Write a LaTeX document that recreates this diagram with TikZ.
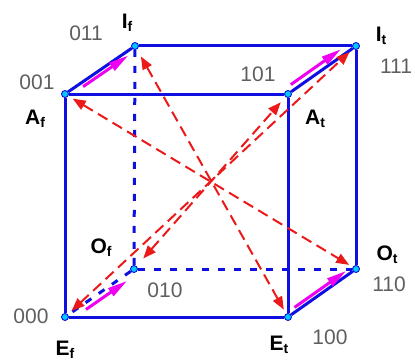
\documentclass[tikz,border=0pt]{standalone}
\usepackage{fontspec}
\setmainfont{Liberation Sans}
\usetikzlibrary{arrows.meta}
\definecolor{eblue}{RGB}{15,15,225}
\definecolor{vcyan}{RGB}{0,200,255}
\definecolor{dred}{RGB}{235,25,25}
\definecolor{mag}{RGB}{240,0,240}
\definecolor{dgray}{RGB}{95,95,95}
\newcommand\vlab[2]{\textbf{#1\raisebox{-0.3ex}{\fontsize{14}{14}\selectfont #2}}}
\begin{document}
\begin{tikzpicture}[x=1pt,y=-1pt,
 vtx/.style={circle,draw=eblue,fill=vcyan,line width=0.9pt,inner sep=0pt,minimum size=7pt},
 edge/.style={eblue,line width=3pt},
 hidden/.style={eblue,line width=3pt,dash pattern=on 7pt off 9pt},
 diag/.style={dred,line width=2pt,dash pattern=on 11pt off 6pt,{Triangle[length=13pt,width=10pt]}-{Triangle[length=13pt,width=10pt]}},
 magarrow/.style={mag,line width=3pt,-{Triangle[length=20pt,width=9pt]}},
 letter/.style={font=\fontsize{21}{21}\selectfont,inner sep=0pt},
 code/.style={font=\fontsize{21}{21}\selectfont,text=dgray,inner sep=0pt}]
\useasboundingbox (0,0) rectangle (415,361);
% vertices
\node[vtx] (Af) at (65,94) {};
\node[vtx] (At) at (288,94) {};
\node[vtx] (Ef) at (65,317) {};
\node[vtx] (Et) at (288,317) {};
\node[vtx] (If) at (135,46) {};
\node[vtx] (It) at (356,46) {};
\node[vtx] (Of) at (134,269) {};
\node[vtx] (Ot) at (356,269) {};
% hidden edges
\draw[hidden] (If) -- (Of);
\draw[hidden] (Of) -- (Ot);
\draw[hidden] (Of) -- (Ef);
% visible edges
\draw[edge] (Af) -- (At);
\draw[edge] (At) -- (Et);
\draw[edge] (Et) -- (Ef);
\draw[edge] (Ef) -- (Af);
\draw[edge] (Af) -- (If);
\draw[edge] (If) -- (It);
\draw[edge] (It) -- (At);
\draw[edge] (It) -- (Ot);
\draw[edge] (Ot) -- (Et);
% diagonals
\draw[diag, shorten <=5pt, shorten >=4pt] (Af) -- (Ot);
\draw[diag, shorten <=8pt, shorten >=4.5pt] (If) -- (Et);
\draw[diag, shorten <=5pt, shorten >=5pt] (Ef) -- (It);
\draw[diag, shorten <=10pt, shorten >=7pt] (Of) -- (At);
% magenta arrows
\draw[magarrow, shorten <=18pt, shorten >=4pt, transform canvas={yshift=-5pt}] (Af) -- (If);
\draw[magarrow, shorten <=2pt, shorten >=12pt, transform canvas={xshift=-2pt,yshift=6pt}] (At) -- (It);
\draw[magarrow, shorten <=4pt, shorten >=8pt, transform canvas={yshift=5pt}] (Et) -- (Ot);
\draw[magarrow, shorten <=18pt, shorten >=8pt, transform canvas={xshift=3pt,yshift=-5pt}] (Ef) -- (Of);
% labels
\node[letter] (lIf) at (127,23) {\vlab{I}{f}};
\node[letter] (lAf) at (35,119) {\vlab{A}{f}};
\node[letter] (lIt) at (381,36) {\vlab{I}{t}};
\node[letter] (lAt) at (315,119) {\vlab{A}{t}};
\node[letter] (lOf) at (101,248) {\vlab{O}{f}};
\node[letter] (lEf) at (65,350) {\vlab{E}{f}};
\node[letter] (lOt) at (387,255) {\vlab{O}{t}};
\node[letter] (lEt) at (279,345) {\vlab{E}{t}};
\node[code] (c011) at (86,33) {011};
\node[code] (c001) at (37,82) {001};
\node[code] (c101) at (258,74) {101};
\node[code] (c111) at (396,66) {111};
\node[code] (c010) at (165,290) {010};
\node[code] (c000) at (31,316) {000};
\node[code] (c110) at (389,284) {110};
\node[code] (c100) at (330,337) {100};
\end{tikzpicture}
\end{document}
